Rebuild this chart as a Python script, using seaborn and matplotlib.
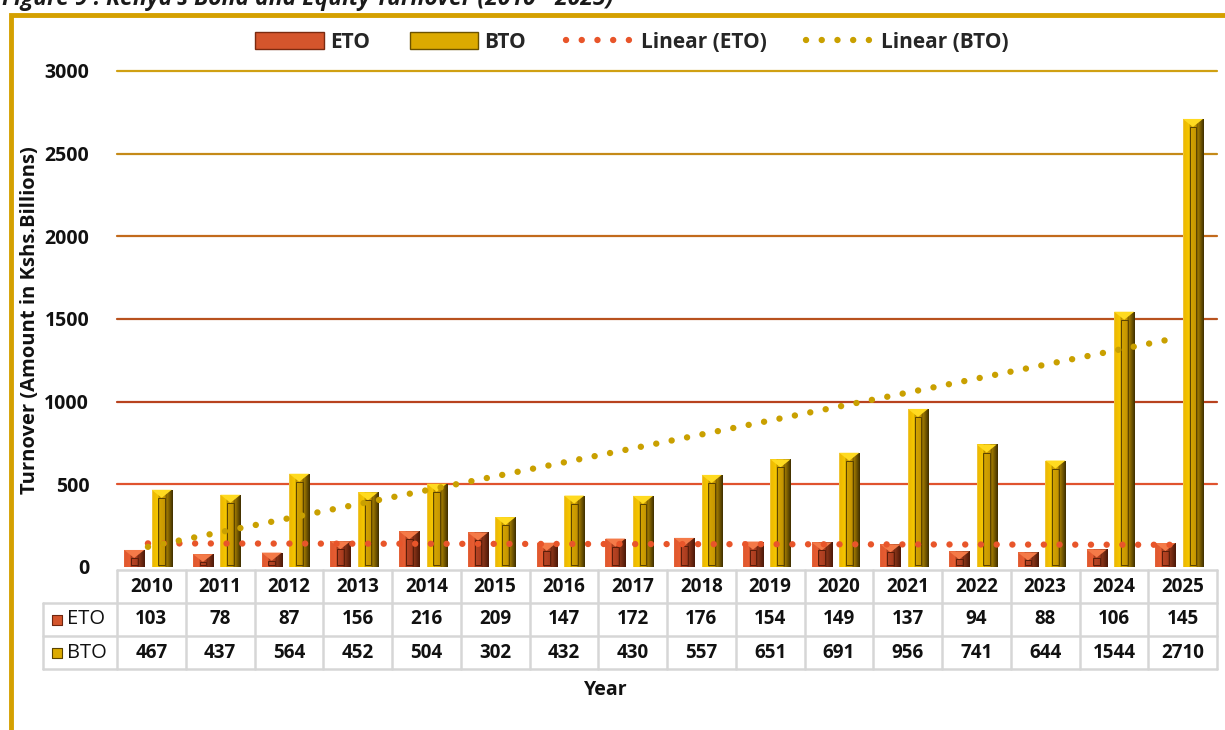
import numpy as np
import pandas as pd
import matplotlib
matplotlib.use("Agg")
import matplotlib.pyplot as plt
import seaborn as sns
from matplotlib.patches import Rectangle, Polygon, Patch
from matplotlib.lines import Line2D
from matplotlib.colors import LinearSegmentedColormap

# ---------------- data ----------------
years = ["2010", "2011", "2012", "2013", "2014", "2015", "2016", "2017",
         "2018", "2019", "2020", "2021", "2022", "2023", "2024", "2025"]
eto = [103, 78, 87, 156, 216, 209, 147, 172, 176, 154, 149, 137, 94, 88, 106, 145]
bto = [467, 437, 564, 452, 504, 302, 432, 430, 557, 651, 691, 956, 741, 644, 1544, 2710]
y_ticks = [0, 500, 1000, 1500, 2000, 2500, 3000]
grid_colors = ["#E0532E", "#B8421E", "#B8521E", "#C26A1C", "#C58A18", "#D0A012"]

title = "Figure 9 : Kenya's Bond and Equity Turnover (2010 - 2025)"
y_label = "Turnover (Amount in Kshs.Billions)"
x_label = "Year"

# ---------------- style ----------------
sns.set_theme(style="white")
plt.rcParams["font.family"] = ["Open Sans", "DejaVu Sans"]

W, H = 1225, 730
fig = plt.figure(figsize=(W / 100, H / 100), dpi=100)
fig.patch.set_facecolor("white")


def fx(px):
    return px / W


def fy(py):
    return 1 - py / H


AX_L, AX_R, AX_T, AX_B = 117, 1217, 71, 567
ax = fig.add_axes([fx(AX_L), fy(AX_B), fx(AX_R) - fx(AX_L), fy(AX_T) - fy(AX_B)])

df = pd.DataFrame({
    "Year": years * 2,
    "Value": eto + bto,
    "Series": ["ETO"] * len(years) + ["BTO"] * len(years),
})
eto_col, bto_col = "#D4552C", "#DCAA00"
sns.barplot(data=df, x="Year", y="Value", hue="Series",
            palette={"ETO": eto_col, "BTO": bto_col}, saturation=1,
            width=0.8, gap=0.27, legend=False, ax=ax, zorder=2,
            edgecolor="none")

ax.set_xlim(-0.45, len(years) - 0.45)
ax.set_ylim(0, 3000)

# px per data unit
ppx = (AX_R - AX_L) / len(years)
ppy = (AX_B - AX_T) / 3000.0

eto_stops = [(0, "#E86A40"), (0.05, "#E0582E"), (0.3, "#E85E32"), (0.34, "#8A3014"),
             (0.37, "#B84424"), (0.63, "#A83C1E"), (0.67, "#6A2410"), (0.72, "#8A3418"),
             (1, "#4A1808")]
bto_stops = [(0, "#F2D060"), (0.05, "#EDB800"), (0.3, "#F6C800"), (0.34, "#9A7400"),
             (0.37, "#D4A400"), (0.63, "#C49400"), (0.67, "#6E5200"), (0.72, "#A07A00"),
             (1, "#3E2E00")]

bars = list(ax.patches)
for k, p in enumerate(bars):
    is_eto = k < len(years)
    stops = eto_stops if is_eto else bto_stops
    top_c = "#F47A48" if is_eto else "#FFDA20"
    inner_c = "#5A1E0A" if is_eto else "#5A4300"
    x0, y0, w, h = p.get_x(), p.get_y(), p.get_width(), p.get_height()
    cmap = LinearSegmentedColormap.from_list("g", stops)
    grad = np.linspace(0, 1, 200).reshape(1, -1)
    im = ax.imshow(grad, cmap=cmap, extent=(x0, x0 + w, y0, y0 + h), aspect="auto",
                   origin="lower", zorder=2.1, interpolation="bilinear")
    im.set_clip_path(p)
    w_px = w * ppx
    d_px = min(w_px * 0.4, h * ppy * 0.6)
    d = d_px / ppy
    ax.add_patch(Polygon([(x0, y0 + h), (x0 + w, y0 + h), (x0 + w / 2, y0 + h - d)],
                         closed=True, facecolor=top_c, edgecolor="none", zorder=2.2))
    inset = w * 0.33
    bot = 2.5 / ppy
    if h - d - bot > 2 / ppy:
        ax.add_patch(Rectangle((x0 + inset, y0 + bot), w - 2 * inset, h - d - bot,
                               fill=False, edgecolor=inner_c, lw=0.7, zorder=2.2))

ax.set_xlim(-0.45, len(years) - 0.45)
ax.set_ylim(0, 3000)

# gridlines
for v, c in zip(y_ticks[1:], grid_colors):
    ax.axhline(v, color=c, lw=1.6, zorder=1, clip_on=False)

# trend lines
xs = np.arange(len(years))
for vals, col in [(eto, "#E8552A"), (bto, "#C9A000")]:
    m, b = np.polyfit(xs, vals, 1)
    ax.plot(xs, m * xs + b, color=col, lw=4.6, linestyle=(0, (0.01, 2.45)),
            dash_capstyle="round", zorder=3)

ax.set_yticks(y_ticks)
ax.set_yticklabels([str(v) for v in y_ticks], fontsize=14, fontweight="bold", color="#111111")
ax.tick_params(axis="y", length=0, pad=20)
ax.set_xticks([])
ax.set_xlabel("")
ax.set_ylabel("")
for s in ax.spines.values():
    s.set_visible(False)
ax.set_facecolor("none")

# ---------------- data table ----------------
T_L, T_T, T_B = 43, 570, 669
tax = fig.add_axes([fx(T_L), fy(T_B), fx(AX_R) - fx(T_L), fy(T_T) - fy(T_B)])
left = -0.5 - (AX_L - T_L) / ppx
tax.set_xlim(left, len(years) - 0.5)
tax.set_ylim(3, 0)
tax.axis("off")
gc = "#D6D6D6"
tax.plot([-0.5, len(years) - 0.5], [0, 0], color=gc, lw=1.8, clip_on=False)
for r in [1, 2, 3]:
    tax.plot([left, len(years) - 0.5], [r, r], color=gc, lw=1.8, clip_on=False)
for i in range(len(years) + 1):
    tax.plot([i - 0.5, i - 0.5], [0, 3], color=gc, lw=1.8, clip_on=False)
tax.plot([left, left], [1, 3], color=gc, lw=1.8, clip_on=False)

for i, yr in enumerate(years):
    tax.text(i, 0.52, yr, ha="center", va="center", fontsize=13.5, fontweight="bold", color="#111111")
    tax.text(i, 1.5, str(eto[i]), ha="center", va="center", fontsize=13.5, fontweight="bold", color="#111111")
    tax.text(i, 2.5, str(bto[i]), ha="center", va="center", fontsize=13.5, fontweight="bold", color="#111111")

for r, lab, fc, ec in [(1.5, "ETO", eto_col, "#6E2610"), (2.5, "BTO", bto_col, "#5A4300")]:
    tax.scatter([left + 14 / ppx], [r], marker="s", s=60, color=fc, edgecolors=ec,
                linewidths=0.8, clip_on=False, zorder=3)
    tax.text(left + 24 / ppx, r, lab, ha="left", va="center", fontsize=14.5, color="#111111")

# ---------------- texts ----------------
fig.text(fx(606), fy(690), x_label, ha="center", va="center", fontsize=14, fontweight="bold", color="#111111")
fig.text(fx(30), fy(320), y_label, rotation=90, ha="center", va="center", fontsize=14.5,
         fontweight="bold", color="#111111")
fig.text(fx(2), fy(5), title, ha="left", va="baseline", fontsize=16.5, fontweight="bold",
         fontstyle="italic", color="#1a1a1a")

# frame
fig.add_artist(Rectangle((fx(11), fy(900)), 2.0, fy(15) - fy(900), transform=fig.transFigure,
                         fill=False, edgecolor="#D4A000", lw=3.5))

# legend
handles = [
    Patch(facecolor=eto_col, edgecolor="#7A2A10", lw=1.0, label="ETO"),
    Patch(facecolor=bto_col, edgecolor="#6B5200", lw=1.0, label="BTO"),
    Line2D([0], [0], color="#E8552A", lw=4.6, linestyle=(0, (0.01, 2.45)),
           dash_capstyle="round", label="Linear (ETO)"),
    Line2D([0], [0], color="#C9A000", lw=4.6, linestyle=(0, (0.01, 2.45)),
           dash_capstyle="round", label="Linear (BTO)"),
]
leg = fig.legend(handles=handles, loc="center", bbox_to_anchor=(fx(632), fy(42)), ncol=4,
                 frameon=False, prop={"weight": "bold", "size": 15}, handlelength=3.3,
                 handleheight=0.85, handletextpad=0.3, columnspacing=1.9)

fig.savefig("out.png", dpi=100, facecolor="white")
